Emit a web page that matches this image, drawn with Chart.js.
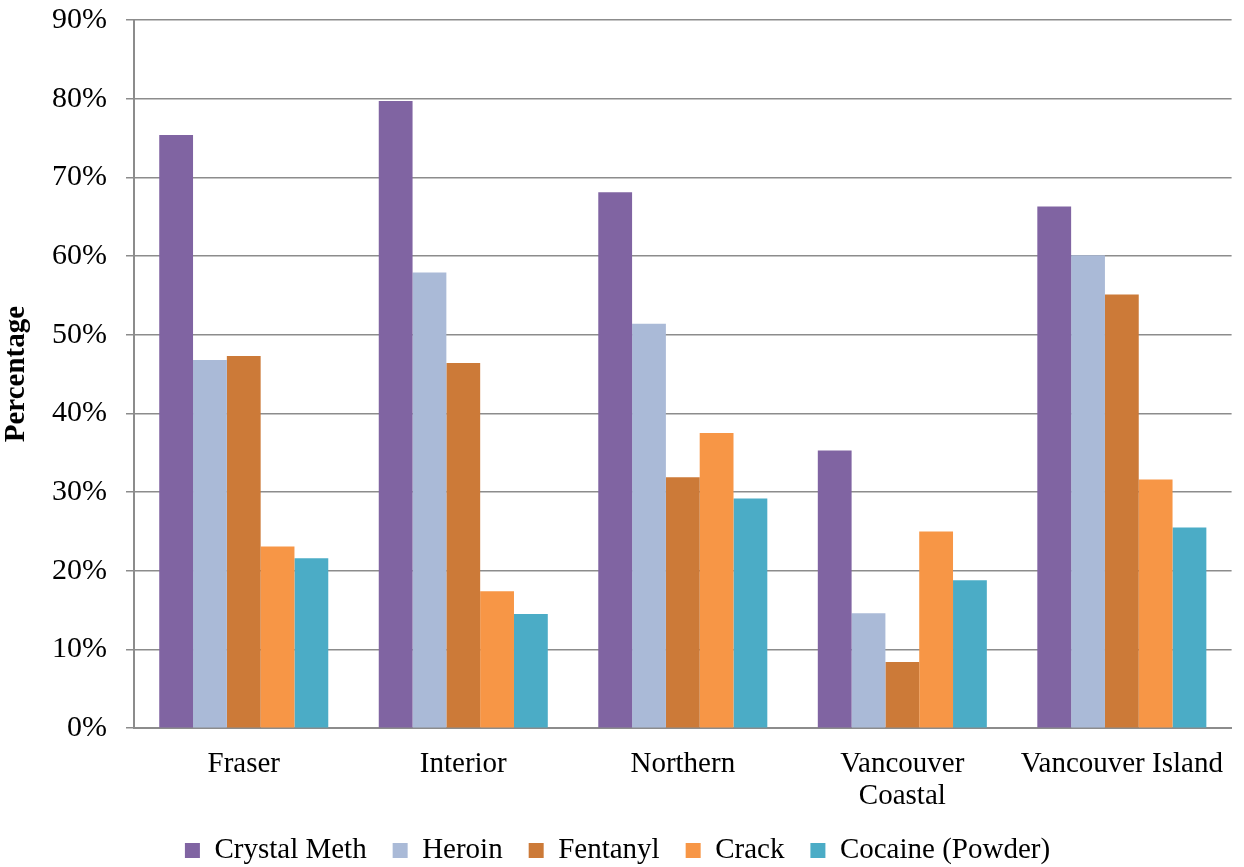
<!DOCTYPE html>
<html>
<head>
<meta charset="utf-8">
<script src="https://cdn.jsdelivr.net/npm/chart.js@4"></script>
<style>
  html, body { margin: 0; padding: 0; background: #fff; }
  #wrap { width: 1244px; height: 867px; }
</style>
</head>
<body>
<div id="wrap"><canvas id="drugChart" width="1244" height="867"></canvas></div>
<script>
const regions = ['Fraser', 'Interior', 'Northern', ['Vancouver', 'Coastal'], 'Vancouver Island'];
const seriesNames = ['Crystal Meth', 'Heroin', 'Fentanyl', 'Crack', 'Cocaine (Powder)'];
const seriesColors = ['#8064A2', '#AABAD7', '#CC7A38', '#F79646', '#4BACC6'];

const crystalMeth = [75.4, 79.7, 68.1, 35.3, 66.3];
const heroin = [46.8, 57.9, 51.4, 14.6, 60.1];
const fentanyl = [47.3, 46.4, 31.9, 8.4, 55.1];
const crack = [23.1, 17.4, 37.5, 25.0, 31.6];
const cocaine = [21.6, 14.5, 29.2, 18.8, 25.5];

const allSeries = [crystalMeth, heroin, fentanyl, crack, cocaine];

const datasets = allSeries.map((vals, i) => ({
    label: seriesNames[i],
    data: vals,
    backgroundColor: seriesColors[i],
    borderWidth: 0,
    categoryPercentage: 0.77,
    barPercentage: 1.0
}));

const fontFamily = '"Liberation Serif", "Times New Roman", serif';

// legend keeps wide gaps between items but takes less height
const legendHeightFix = {
    id: 'legendHeightFix',
    afterInit(chart) {
        const lg = chart.legend;
        if (!lg) return;
        const origFit = lg.fit.bind(lg);
        lg.fit = function () {
            origFit();
            this.height = 57;
        };
    }
};

new Chart(document.getElementById('drugChart'), {
    type: 'bar',
    data: { labels: regions, datasets: datasets },
    plugins: [legendHeightFix],
    options: {
        responsive: false,
        animation: false,
        layout: { padding: { top: 20, right: 11, left: 2, bottom: 0 } },
        plugins: {
            legend: {
                position: 'bottom',
                labels: {
                    font: { family: fontFamily, size: 29 },
                    color: '#000',
                    boxWidth: 15,
                    boxHeight: 15,
                    padding: 26
                }
            },
            tooltip: { enabled: false }
        },
        scales: {
            x: {
                grid: { display: false, drawTicks: false },
                border: { color: '#8c8c8c', width: 2 },
                ticks: {
                    font: { family: fontFamily, size: 29, lineHeight: 1.1 },
                    color: '#000',
                    maxRotation: 0,
                    padding: 20
                },
                afterFit: scale => { scale.height -= 22; }
            },
            y: {
                min: 0,
                max: 90,
                ticks: {
                    stepSize: 10,
                    callback: v => v + '%',
                    font: { family: fontFamily, size: 30, lineHeight: 0.8 },
                    color: '#000',
                    padding: 19
                },
                grid: { color: '#8c8c8c', lineWidth: 1.5, tickLength: 8 },
                border: { color: '#8c8c8c', width: 2 },
                title: {
                    display: true,
                    text: 'Percentage',
                    font: { family: fontFamily, size: 29, weight: 'bold', lineHeight: 1.0 },
                    color: '#000',
                    padding: { top: 0, bottom: 2 }
                },
                afterFit: scale => { scale.paddingTop = 0; }
            }
        }
    }
});
</script>
</body>
</html>
